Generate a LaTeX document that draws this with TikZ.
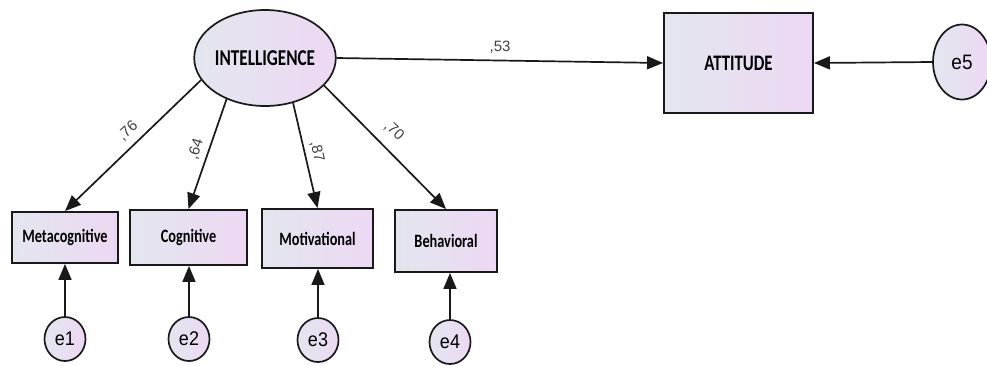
\documentclass[tikz,border=0pt]{standalone}
\usepackage{fontspec}
\usepackage{graphicx}
\setmainfont{Liberation Sans}
\newfontfamily\boxfont{Carlito}
\usetikzlibrary{arrows.meta,shapes.geometric}
\definecolor{gl}{HTML}{E3E6EE}
\definecolor{gr}{HTML}{EDD8F3}
\newcommand\vtxt[1]{\scalebox{1}[1.32]{#1}}
\newcommand\etxt[1]{\scalebox{1}[1.1]{#1}}
\tikzset{
  shadefill/.style={left color=gl, right color=gr},
  latent/.style={ellipse, draw=black!90, line width=1.7pt, shadefill, inner sep=0pt,
    minimum width=132pt, minimum height=96pt, font=\boxfont\bfseries\fontsize{17.2}{19}\selectfont},
  obs/.style={rectangle, draw=black!90, line width=1.9pt, shadefill, inner sep=0pt,
    font=\boxfont\bfseries\fontsize{14.3}{16}\selectfont},
  err/.style={ellipse, draw=black!90, line width=1.7pt, shadefill, inner sep=0pt,
    minimum width=41pt, minimum height=44pt, font=\fontsize{18}{20}\selectfont},
  path/.style={draw=black!90, line width=1.7pt, -{Triangle[length=16pt,width=13pt]}},
  coef/.style={font=\fontsize{15}{17}\selectfont, text=black!75, inner sep=0pt}
}
\begin{document}
\begin{tikzpicture}[x=1pt,y=-1pt]
\useasboundingbox (0,0) rectangle (987,365);
% nodes
\node[latent] (int) at (265,58) {\vtxt{INTELLIGENCE}};
\node[obs, minimum width=149pt, minimum height=100pt, font=\boxfont\bfseries\fontsize{16.8}{19}\selectfont] (att) at (738.5,63) {\vtxt{ATTITUDE}};
\node[err, minimum width=58pt, minimum height=75pt, font=\fontsize{19}{21}\selectfont] (e5) at (962,62) {\etxt{e5}};
\node[obs, minimum width=106pt, minimum height=51pt] (meta) at (65,237.5) {\vtxt{Metacognitive}};
\node[obs, minimum width=117pt, minimum height=55pt] (cog) at (188.5,237.5) {\vtxt{Cognitive}};
\node[obs, minimum width=111pt, minimum height=59pt] (mot) at (317.5,238.5) {\vtxt{Motivational}};
\node[obs, minimum width=102pt, minimum height=62pt] (beh) at (446,241) {\vtxt{Behavioral}};
\node[err] (e1) at (65,339) {\etxt{e1}};
\node[err] (e2) at (189,339) {\etxt{e2}};
\node[err] (e3) at (318,340) {\etxt{e3}};
\node[err] (e4) at (450,342) {\etxt{e4}};
% paths
\draw[path] (int.199) -- (meta.north);
\draw[path] (int.227) -- (cog.north);
\draw[path] (int.302) -- (mot.north);
\draw[path] (int.335) -- (beh.north);
\draw[path] (int.east) -- (att.west);
\draw[path] (e5.west) -- (att.east);
\draw[path] (e1.north) -- (e1.north |- meta.south);
\draw[path] (e2.north) -- (e2.north |- cog.south);
\draw[path] (e3.north) -- (e3.north |- mot.south);
\draw[path] (e4.north) -- (e4.north |- beh.south);
% coefficients
\node[coef] (c53) at (500,47) {,53};
\node[coef, rotate=42] (c76) at (128,131) {,76};
\node[coef, rotate=72] (c64) at (196,149) {,64};
\node[coef, rotate=-77] (c87) at (317,152) {,87};
\node[coef, rotate=-43] (c70) at (394,131) {,70};
\end{tikzpicture}
\end{document}
